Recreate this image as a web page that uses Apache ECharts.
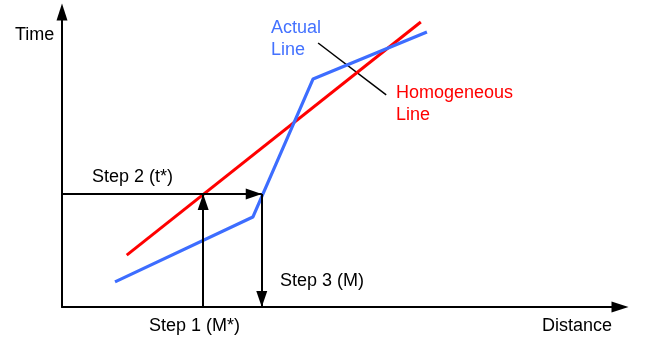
<!DOCTYPE html>
<html>
<head>
<meta charset="utf-8">
<script src="https://cdn.jsdelivr.net/npm/echarts@6/dist/echarts.min.js"></script>
<style>
  html, body { margin: 0; padding: 0; background: #fff; }
  #chart { width: 646px; height: 339px; }
</style>
</head>
<body>
<div id="chart"></div>
<script>
// diagram values, in arbitrary distance / time units (0-100)
var homogeneousLine = [[11.6, 17.6], [64.3, 96.6]];
var actualLine = [[9.5, 8.5], [34.2, 30.5], [45.0, 77.3], [65.4, 93.2]];
var leaderLine = [[45.9, 89.5], [58.1, 71.9]];
var mStar = 25.3;   // step 1
var tStar = 38.3;   // step 2
var mValue = 35.8;  // step 3

var FONT = '"Liberation Sans", Arial, sans-serif';
// solid arrow head in a square 32x32 box, tip at the box centre so it lands on the line end
var ARROW_HEAD = 'path://M-16,0 M16,0 M0,16 L5.5,32 L-5.5,32 Z';

function label(text, x, y, color) {
    return {
        type: 'text',
        left: x,
        top: y,
        style: {
            text: text,
            fill: color || '#000',
            font: '18px ' + FONT,
            lineHeight: 22
        }
    };
}

var myChart = echarts.init(document.getElementById('chart')),
    option = {
        animation: false,
        grid: {
            left: 62,
            right: 26,
            top: 12,
            bottom: 32
        },
        xAxis: {
            type: 'value',
            min: 0,
            max: 100,
            axisLine: {
                onZero: false,
                symbol: ['none', 'triangle'],
                symbolSize: [11, 17],
                lineStyle: { color: '#000', width: 2 }
            },
            axisTick: { show: false },
            axisLabel: { show: false },
            splitLine: { show: false }
        },
        yAxis: {
            type: 'value',
            min: 0,
            max: 100,
            axisLine: {
                show: true,
                onZero: false,
                symbol: ['none', 'triangle'],
                symbolSize: [11, 17],
                lineStyle: { color: '#000', width: 2 }
            },
            axisTick: { show: false },
            axisLabel: { show: false },
            splitLine: { show: false }
        },
        series: [
            {
                name: 'leader',
                type: 'line',
                z: 1,
                data: leaderLine,
                showSymbol: false,
                lineStyle: { color: '#000', width: 1.5 }
            },
            {
                name: 'Homogeneous Line',
                type: 'line',
                z: 3,
                data: homogeneousLine,
                showSymbol: false,
                lineStyle: { color: '#ff0000', width: 3 }
            },
            {
                name: 'Actual Line',
                type: 'line',
                z: 3,
                data: actualLine,
                showSymbol: false,
                lineStyle: { color: '#3d6dff', width: 3.2 }
            },
            {
                name: 'steps',
                type: 'lines',
                coordinateSystem: 'cartesian2d',
                z: 4,
                symbol: ['none', ARROW_HEAD],
                symbolSize: [0, 32],
                lineStyle: { color: '#000', width: 2, opacity: 1 },
                data: [
                    { coords: [[0, tStar], [mValue, tStar]] },
                    { coords: [[mStar, 0], [mStar, tStar]] },
                    { coords: [[mValue, tStar], [mValue, 0]] }
                ]
            }
        ],
        graphic: [
            label('Time', 15, 24),
            label('Actual\nLine', 271, 17, '#4472ff'),
            label('Homogeneous\nLine', 396, 82, '#ff0000'),
            label('Step 2 (t*)', 92, 166),
            label('Step 3 (M)', 280, 270),
            label('Step 1 (M*)', 149, 315),
            label('Distance', 542, 315)
        ]
    };

myChart.setOption(option);
</script>
</body>
</html>
